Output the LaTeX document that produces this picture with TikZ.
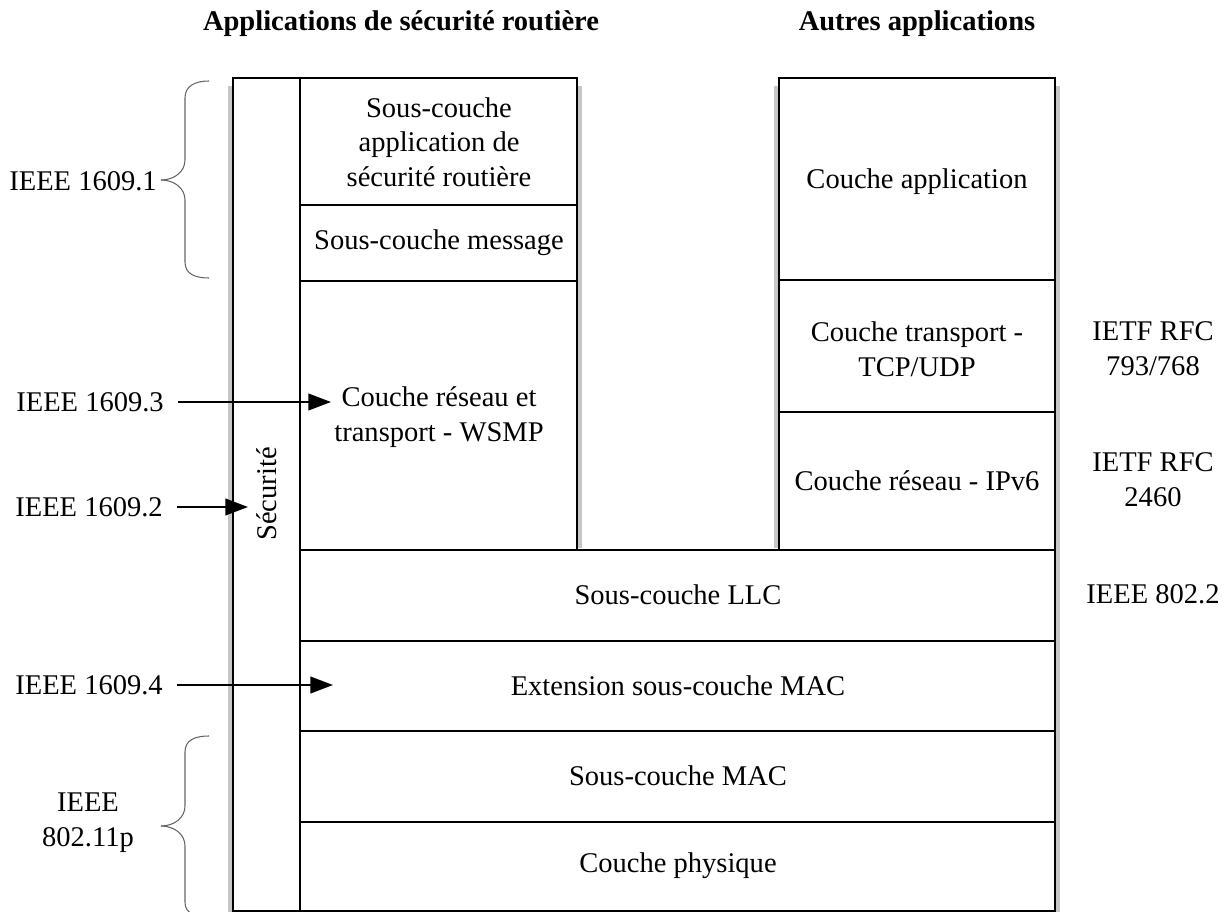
\documentclass[tikz,border=0pt]{standalone}
\usepackage{fontspec}
\setmainfont{Liberation Serif}
\usetikzlibrary{arrows.meta,fit}
\tikzset{
  base/.style={font=\fontsize{21.4}{26}\selectfont},
  layer/.style={draw, line width=1.8pt, inner sep=0pt},
  stdlabel/.style={inner sep=0pt, align=center},
  arrowlabel/.style={anchor=east, inner xsep=10.5pt, inner ysep=0pt},
  arr/.style={line width=1.5pt, -{Triangle[length=17pt,width=12.5pt]}},
  bracepath/.style={line width=0.8pt, black!60},
  shade/.style={line width=2.5pt, black!22},
  title/.style={font=\fontsize{21.4}{26}\selectfont\bfseries, inner sep=0pt}
}
\begin{document}
\begin{tikzpicture}[x=0.75pt,y=-0.75pt,base]
\useasboundingbox (0,0) rectangle (1228,912);

% soft shadows
\draw[shade] (230,86) -- (230,912);
\draw[shade] (1058,86) -- (1058,912);
\draw[shade] (580,86) -- (580,548);
\draw[shade] (776,86) -- (776,548);

% titles
\node[title] (t1) at (401,24) {Applications de sécurité routière};
\node[title] (t2) at (917,24) {Autres applications};

% security column
\node[layer, fit={(233,78) (300,911)}] (sec) {};
\node[rotate=90, inner sep=0pt] (sectext) at (267,494) {Sécurité};

% left stack
\node[layer, fit={(300,78) (577,205)}] (sapp) {};
\node[stdlabel] (sappt) at (439,142) {Sous-couche\\application de\\sécurité routière};
\node[layer, fit={(300,205) (577,281)}] (smsg) {};
\node[stdlabel] (smsgt) at (439,243) {Sous-couche message};
\node[layer, fit={(300,281) (577,550)}] (wsmp) {};
\node[stdlabel] (wsmpt) at (439,417) {Couche réseau et\\transport - WSMP};

% right stack
\node[layer, fit={(779,78) (1055,280)}] (capp) {};
\node[stdlabel] (cappt) at (917,182) {Couche application};
\node[layer, fit={(779,280) (1055,412)}] (ctr) {};
\node[stdlabel] (ctrt) at (917,349) {Couche transport -\\TCP/UDP};
\node[layer, fit={(779,412) (1055,550)}] (cres) {};
\node[stdlabel] (crest) at (917,481) {Couche réseau - IPv6};

% wide layers
\node[layer, fit={(300,550) (1055,641)}] (llc) {};
\node[stdlabel] (llct) at (678,595) {Sous-couche LLC};
\node[layer, fit={(300,641) (1055,731)}] (ext) {};
\node[stdlabel] (extt) at (678,686) {Extension sous-couche MAC};
\node[layer, fit={(300,731) (1055,822)}] (mac) {};
\node[stdlabel] (mact) at (678,776) {Sous-couche MAC};
\node[layer, fit={(300,822) (1055,911)}] (phy) {};
\node[stdlabel] (phyt) at (678,866) {Couche physique};

% left labels with braces
\node[anchor=east, inner sep=0pt] (l1) at (157,181) {IEEE 1609.1};
\coordinate (b1) at (161,180);
\draw[bracepath] (b1) .. controls (174,180) and (185,172) .. (185,160) -- (185,98) .. controls (185,86) and (195,81) .. (209,81);
\draw[bracepath] (b1) .. controls (174,180) and (185,188) .. (185,200) -- (185,262) .. controls (185,274) and (195,278) .. (209,278);

\node[stdlabel] (l5) at (88,823) {IEEE\\802.11p};
\coordinate (b5) at (161,826);
\draw[bracepath] (b5) .. controls (174,826) and (185,818) .. (185,806) -- (185,752) .. controls (185,740) and (195,736) .. (209,736);
\draw[bracepath] (b5) .. controls (174,826) and (185,834) .. (185,846) -- (185,902) .. controls (185,914) and (195,916) .. (209,916);

% arrow labels
\node[arrowlabel] (l3) at (178,402) {IEEE 1609.3};
\coordinate (t3) at (331,402);
\draw[arr] (l3) -- (t3);

\node[arrowlabel] (l2) at (177,507) {IEEE 1609.2};
\coordinate (t2a) at (248,507);
\draw[arr] (l2) -- (t2a);

\node[arrowlabel] (l4) at (177,685) {IEEE 1609.4};
\coordinate (t4) at (333,685);
\draw[arr] (l4) -- (t4);

% right labels
\node[stdlabel] (r1) at (1153,349) {IETF RFC\\793/768};
\node[stdlabel] (r2) at (1153,480) {IETF RFC\\2460};
\node[stdlabel] (r3) at (1153,594) {IEEE 802.2};
\end{tikzpicture}
\end{document}
